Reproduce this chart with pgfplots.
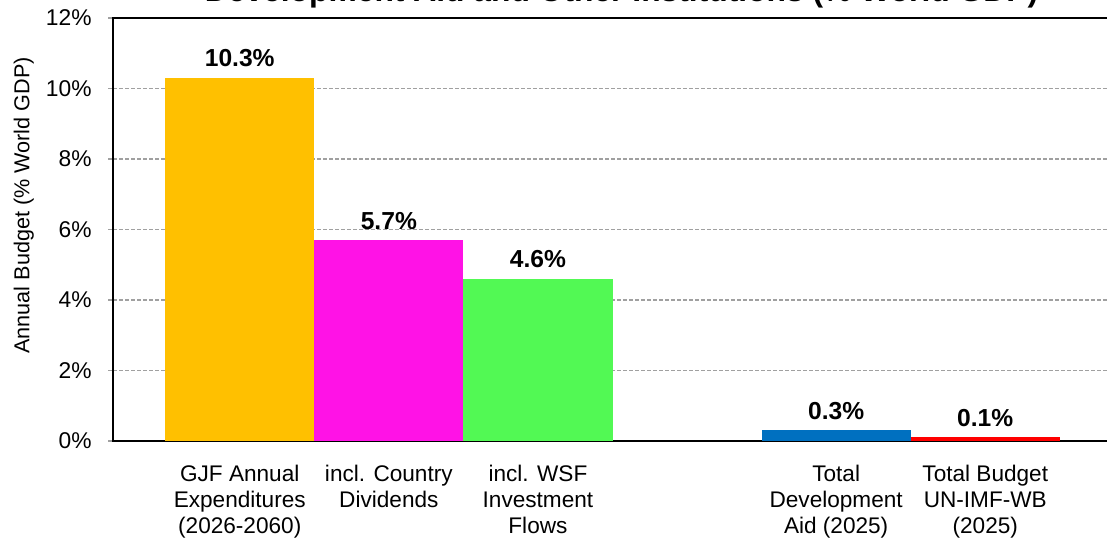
\documentclass[border=0pt]{standalone}
\usepackage{pgfplots}
\pgfplotsset{compat=1.18}
\usepackage{fontspec}
\setmainfont{Liberation Sans}

\definecolor{gjf}{RGB}{255,192,0}
\definecolor{ctry}{RGB}{255,18,230}
\definecolor{wsf}{RGB}{82,249,84}
\definecolor{aid}{RGB}{0,112,192}
\definecolor{unb}{RGB}{255,0,0}
\definecolor{gridgray}{RGB}{160,160,160}

\begin{document}
\begin{tikzpicture}
	% the reference is a crop: keep only that window
	\clip (-56.5pt,-48.5pt) rectangle (497pt,220.5pt);
	%
	\begin{axis}[
	at={(0,0)}, anchor=south west,
	scale only axis,
	width=499.5pt, height=211.5pt,
	xmin=-0.85, xmax=5.85,
	ymin=0, ymax=12,
	ytick={0,2,...,12},
	yticklabel={\pgfmathprintnumber{\tick}\%},
	/pgf/number format/assume math mode=true,
	xtick={0,1,2,4,5},
	xticklabels={GJF Annual\\Expenditures\\(2026-2060), incl. Country\\Dividends, incl. WSF\\Investment\\Flows, Total\\Development\\Aid (2025), Total Budget\\UN-IMF-WB\\(2025)},
	xticklabel style={align=center, font=\fontsize{11.3}{13}\selectfont, anchor=north, inner sep=0pt, yshift=-9.5pt},
	xtick style={draw=none},
	ytick style={gridgray, line width=0.6pt},
	tick align=outside,
	major tick length=2.5pt,
	yticklabel style={font=\fontsize{11.4}{12}\selectfont, inner sep=0pt, xshift=-8pt},
	tick pos=left,
	ymajorgrids,
	grid style={gridgray, line width=0.6pt, dash pattern=on 2pt off 1pt},
	axis line style={black, line width=1.2pt},
	ylabel={Annual Budget (\% World GDP)},
	ylabel style={font=\fontsize{10.8}{12}\selectfont, at={(ticklabel cs:0.557,2.5pt)}},
	nodes near coords,
	nodes near coords style={font=\fontsize{12.3}{14}\selectfont\bfseries, anchor=base, inner sep=0pt, yshift=5.5pt},
	point meta=explicit symbolic,
	]
	\addplot[ybar, bar width=1, fill=gjf, draw=none] coordinates {(0,10.3) [10.3\%]};
	\addplot[ybar, bar width=1, fill=ctry, draw=none] coordinates {(1,5.7) [5.7\%]};
	\addplot[ybar, bar width=1, fill=wsf, draw=none] coordinates {(2,4.6) [4.6\%]};
	\addplot[ybar, bar width=1, fill=aid, draw=none] coordinates {(4,0.3) [0.3\%]};
	\addplot[ybar, bar width=1, fill=unb, draw=none] coordinates {(5,0.1) [0.1\%]};
	\end{axis}
	%
	% title, only its lower edge shows in the crop
	\node[anchor=base, font=\fontsize{15.9}{18}\selectfont\bfseries] at (254.25pt,220pt)
		{Development Aid and Other Institutions (\% World GDP)};
\end{tikzpicture}
\end{document}
